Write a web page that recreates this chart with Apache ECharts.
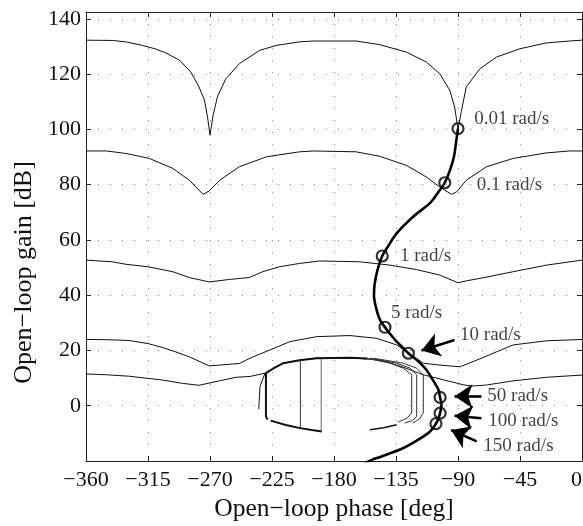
<!DOCTYPE html>
<html style="height: 100%; margin: 0">
<head>
<meta charset="UTF-8">
<title>Nichols</title>
</head>
<body style="height: 100%; margin: 0; background: #fff">
<div id="container" style="width:583px; height:526px"></div>
<script type="text/javascript" src="https://cdn.jsdelivr.net/npm/echarts@6/dist/echarts.min.js"></script>
<script type="text/javascript">
	// gain contours [phase deg, gain dB]
	var c132 = [[-360,132.3],[-340,132.2],[-330,131.6],[-319,130.4],[-310,129.2],[-302,127.7],[-292,125],[-284,120.8],[-278,115.4],[-274,110.6],[-271.8,104.5],[-270,97.9],[-267.8,105],[-264.5,112],[-258.4,118.4],[-248.7,123.8],[-234,128.6],[-222,130.4],[-205,131.7],[-195,132],[-164,132],[-147,130.7],[-127.5,128],[-113,124.4],[-103.3,120.2],[-96,114.2],[-92.4,108.1],[-90,100],[-87.6,106.5],[-84,115.4],[-74,122],[-62,126.2],[-45,129.2],[-26,131.3],[-9,132],[0,132.3]];
	var c92 = [[-360,92.2],[-345,92.2],[-331,91.3],[-314,89.5],[-297,85.9],[-285,81.6],[-275,76.5],[-270.5,77.8],[-263,81.6],[-248.7,86.5],[-229,90.1],[-205,91.9],[-195,92.2],[-164,91.9],[-147,90.3],[-127.5,87],[-113,82.8],[-103.3,79.2],[-94.8,76.5],[-91,77.4],[-84,81.6],[-69.3,86.5],[-50,89.5],[-26,91.5],[-9,92.2],[0,92.2]];
	var c52 = [[-360,52.7],[-341,52.1],[-331,51.2],[-315,50.3],[-297,48.5],[-285,46.4],[-270.5,44.8],[-256,45.7],[-241.5,46.4],[-231.8,48.5],[-219.6,50.3],[-205,51.5],[-190.5,52.4],[-161.5,52.1],[-139.6,50.9],[-120.3,49.3],[-103.3,47.3],[-90,44.5],[-84,45.2],[-74,46.1],[-50,48.5],[-25.7,50.9],[0,52.7]];
	var c24 = [[-360,24],[-345,23.9],[-328.7,23.6],[-315,22.5],[-304.5,21.1],[-295,19.5],[-285,17.7],[-270.5,14.4],[-263.3,14.7],[-248.7,15.3],[-240.9,17.2],[-226.5,20.2],[-212,23.2],[-192.6,25],[-168.4,25.4],[-149,24.4],[-134.5,22],[-122.4,17.8],[-115.2,15.4],[-105,14.8],[-95.8,14.4],[-88.5,14.1],[-74,17],[-62,19.5],[-50,22],[-25.7,23.5],[0,24]];
	var c11 = [[-360,11.5],[-345,11.2],[-329,10.7],[-304.5,9.3],[-290,8.1],[-278,7.4],[-263.3,9],[-251,10.3],[-240.9,10.6],[-230,11.8],[-223,13.8],[-216.8,15.4],[-205,16.5],[-192.6,17.2],[-168.4,17.4],[-149,16.6],[-140,15.6],[-130,14],[-121,12.3],[-115.2,11.2],[-100.7,9.4],[-86.2,7.6],[-80,7.1],[-69.3,7.5],[-50,9],[-25.7,10.3],[0,11.1]];

	// closed lobe pieces under the 0 dB region
	var lobeTop = [[-229.4,11.8],[-223,13.8],[-216.8,15.4],[-205,16.5],[-192.6,17.2],[-168.4,17.4],[-156,17.1]];
	var lobeThinL = [[-230,11.8],[-233.7,7],[-234.6,-1.2]];
	var lobeThickL = [[-229.4,11.8],[-229.4,-3.9],[-228.2,-5]];
	var lobeBottom = [[-226,-5.4],[-215,-7],[-204.7,-8.1],[-196,-8.8],[-188.9,-9.3]];
	var lobeV1 = [[-204.4,16.2],[-204.4,-8.1]];
	var lobeV2 = [[-189.3,17],[-189.3,-9.3]];
	var lobeR1 = [[-156.3,17.2],[-139.4,15.4],[-129.7,13.6],[-123.6,11.2],[-123.6,-2.6],[-127,-4.5],[-133.3,-5.9]];
	var lobeR2 = [[-153.9,17.2],[-134.5,15.4],[-124.8,13.6],[-120,11.2],[-120,-3.9],[-123.5,-5.5],[-128.9,-6.3]];
	var lobeR3 = [[-151.5,17.2],[-129.7,15.4],[-120,13.6],[-115.2,11.2],[-115.2,-2.6],[-118,-4.8],[-122.9,-6.3]];
	var lobeLow = [[-153.9,-8.7],[-144,-8],[-134.5,-6.9]];

	// open-loop frequency response
	var nichols = [[-90,100.3],[-91.5,95],[-93,90],[-96,85],[-99.6,80.7],[-104,77.5],[-110,73.5],[-122.6,68.4],[-134.7,62.3],[-141,57.5],[-145,54.2],[-148.5,49],[-150.5,44],[-151,40],[-149.5,35.5],[-147,31.5],[-143,28.4],[-138.5,25.5],[-134.5,23.2],[-130,21],[-126,19],[-121.5,17.2],[-117.6,15.5],[-113,13],[-109.1,10],[-106,7.5],[-104,5.5],[-103,3],[-102,0.4],[-102.5,-1.5],[-103,-2.7],[-104.5,-5],[-106,-6.5],[-110.3,-9.3],[-118.8,-12.3],[-130,-15.4],[-145,-18.3],[-153,-19.7],[-160,-21.5]];
	var freqNames = ['0.01 rad/s','0.1 rad/s','1 rad/s','5 rad/s','10 rad/s','50 rad/s','100 rad/s','150 rad/s'];
	var freqPts = [[-90,100.3],[-99.6,80.7],[-145,54.2],[-143,28.4],[-126,19],[-103,3],[-103,-2.7],[-106,-6.5]];
	var labelPts = [[-78.2,103.9],[-76.4,79.8],[-132.1,54.2],[-138.6,33.4],[-88.5,25.6],[-68.7,3.4],[-68,-5.4],[-71.6,-14.4]];
	var arrows = [[[-92.5,23.8],[-116.5,20]],[[-73,3.4],[-92.5,3.4]],[[-73,-4.5],[-92.5,-3.6]],[[-76.4,-12.9],[-95,-8.8]]];

	var xTicks = [-360,-315,-270,-225,-180,-135,-90,-45,0];
	var yTicks = [-20,0,20,40,60,80,100,120,140];

	var font = 'Liberation Serif';
	var dom = document.getElementById("container");
	var myChart = echarts.init(dom);

	function thin(d, w, c) {
		return {type:'line', data:d, symbol:'none', silent:true, xAxisIndex:0, yAxisIndex:0,
			lineStyle:{color:c || '#111', width:w || 1}};
	}

	var series = [
		thin(c132), thin(c92), thin(c52), thin(c24), thin(c11),
		thin(lobeTop, 2), thin(lobeThinL), thin(lobeThickL, 2), thin(lobeBottom, 2),
		thin(lobeV1, 1, '#333'), thin(lobeV2, 1, '#666'),
		thin(lobeR1, 1, '#333'), thin(lobeR2, 1, '#333'), thin(lobeR3, 1, '#333'), thin(lobeLow, 1.5),
		{type:'line', data:nichols, symbol:'none', smooth:0.3, lineStyle:{color:'#000', width:2.6}},
		{type:'scatter', data:freqPts, symbol:'circle', symbolSize:11,
			itemStyle:{color:'rgba(0,0,0,0)', borderColor:'#000', borderWidth:2.2}},
		{type:'scatter', symbolSize:0,
			data:labelPts.map(function (p, i) { return {name:freqNames[i], value:p}; }),
			label:{show:true, position:'right', distance:0, formatter:'{b}',
				fontFamily:font, fontSize:19, color:'#111'},
			markLine:{silent:true, symbol:['none','arrow'], symbolSize:18,
				lineStyle:{color:'#000', width:2.6, type:'solid'},
				label:{show:false},
				data:arrows.map(function (a) { return [{coord:a[0]}, {coord:a[1]}]; })}
		}
	];

	var frame = {show:true, onZero:false, lineStyle:{color:'#222'}};
	var ticks = {inside:true, length:5, lineStyle:{color:'#222'}};

	var option = {
		animation:false,
		backgroundColor:'#fff',
		grid:{left:86, right:1, top:12, bottom:65, containLabel:false, outerBoundsMode:'none'},
		xAxis:[{
			type:'value', min:xTicks[0], max:xTicks[xTicks.length-1], interval:45,
			name:'Open\u2212loop phase [deg]', nameLocation:'middle', nameGap:33,
			nameTextStyle:{fontFamily:font, fontSize:25.5, color:'#111'},
			axisLine:frame, axisTick:ticks,
			axisLabel:{fontFamily:font, fontSize:22, color:'#111', margin:8, alignMaxLabel:'right',
				formatter:function (v) { return v < 0 ? '\u2212' + (-v) : String(v); }},
			splitLine:{show:true, lineStyle:{color:'#888', type:[1,11]}}
		},{
			type:'value', position:'top', min:-360, max:0, interval:45,
			axisLine:frame, axisTick:ticks,
			axisLabel:{show:false}, splitLine:{show:false}
		}],
		yAxis:[{
			type:'value', min:yTicks[0], max:142.5, interval:20,
			name:'Open\u2212loop gain [dB]', nameLocation:'middle', nameGap:49,
			nameTextStyle:{fontFamily:font, fontSize:26, color:'#111', padding:[0,72,0,0]},
			axisLine:frame, axisTick:ticks,
			axisLabel:{fontFamily:font, fontSize:22, color:'#111', margin:5,
				showMinLabel:false, showMaxLabel:false},
			splitLine:{show:true, lineStyle:{color:'#888', type:[1,11]}}
		},{
			type:'value', position:'right', min:-20, max:142.5, interval:20,
			axisLine:frame, axisTick:ticks,
			axisLabel:{show:false}, splitLine:{show:false}
		}],
		series:series
	};
	if (option && typeof option === "object") {
		myChart.setOption(option, true);
	}
</script>
</body>
</html>
